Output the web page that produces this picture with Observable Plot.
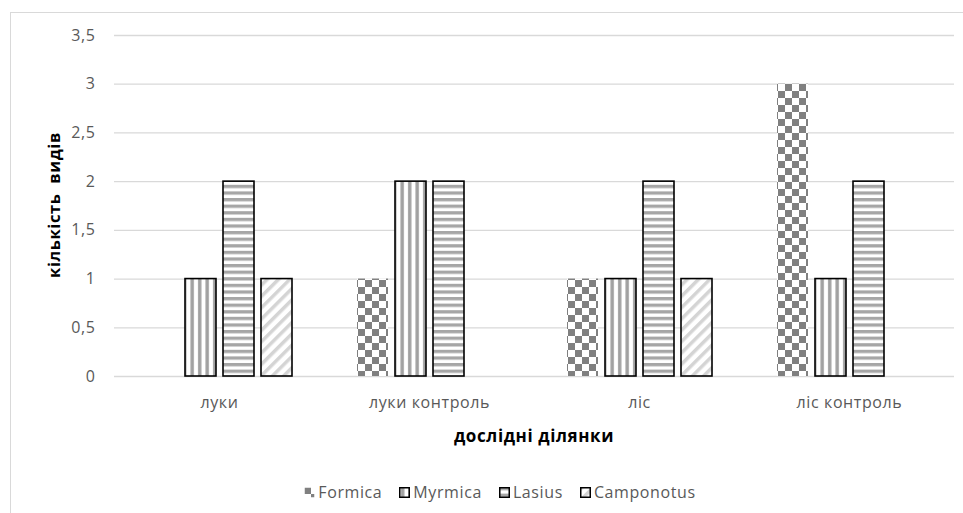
<!DOCTYPE html>
<html>
<head>
<meta charset="utf-8">
<script src="https://cdn.jsdelivr.net/npm/d3@7"></script>
<script src="https://cdn.jsdelivr.net/npm/@observablehq/plot@0.6"></script>
<style>
  html, body { margin: 0; padding: 0; background: #fff; }
  body { width: 963px; height: 513px; overflow: hidden; position: relative; font-family: "Open Sans", Lato, sans-serif; }
  #frame { position: absolute; left: 10px; top: 12px; width: 1000px; height: 600px; border: 1px solid #d9d9d9; box-sizing: border-box; }
  #chart { position: absolute; left: 0; top: 0; }
  #legend { position: absolute; left: 37px; right: 0; top: 481px; display: flex; justify-content: center; gap: 17px; color: #595959; font-size: 16px; letter-spacing: 0.6px; }
  #legend .item { display: flex; align-items: center; gap: 3px; }
  #legend svg { display: block; }
</style>
</head>
<body>
<div id="frame"></div>
<svg width="0" height="0" style="position:absolute">
  <defs>
    <pattern id="pat-Formica" patternUnits="userSpaceOnUse" width="14" height="14">
      <rect width="14" height="14" fill="#fff"/>
      <rect x="0" y="0" width="7" height="7" fill="#808080"/>
      <rect x="7" y="7" width="7" height="7" fill="#808080"/>
    </pattern>
    <pattern id="pat-Myrmica" patternUnits="userSpaceOnUse" width="7.5" height="8">
      <rect width="7.5" height="8" fill="#fff"/>
      <rect x="2" y="0" width="3.4" height="8" fill="#a0a0a0"/>
    </pattern>
    <pattern id="pat-Lasius" patternUnits="userSpaceOnUse" width="8" height="6.6">
      <rect width="8" height="6.6" fill="#fff"/>
      <rect x="0" y="0" width="8" height="3.3" fill="#a6a6a6"/>
    </pattern>
    <pattern id="pat-Camponotus" patternUnits="userSpaceOnUse" width="8" height="8" patternTransform="rotate(45)">
      <rect width="8" height="8" fill="#fff"/>
      <rect x="0" y="0" width="3.5" height="8" fill="#d4d4d4"/>
    </pattern>
  </defs>
</svg>
<div id="chart"></div>
<div id="legend"></div>
<script>
// Study plots and ant genera
const categories = ["луки", "луки контроль", "ліс", "ліс контроль"];
const series = ["Formica", "Myrmica", "Lasius", "Camponotus"];
const formica = [0, 1, 1, 3];
const myrmica = [1, 2, 1, 1];
const lasius = [2, 2, 2, 2];
const camponotus = [1, 0, 1, 0];
const yTicks = [0, 0.5, 1, 1.5, 2, 2.5, 3, 3.5];

const valuesBySeries = [formica, myrmica, lasius, camponotus];
const rows = [];
categories.forEach((c, i) => {
  series.forEach((s, j) => rows.push({category: c, series: s, value: valuesBySeries[j][i]}));
});

const fmt = d => String(d).replace(".", ",");

const barMarks = series.map(s => Plot.barY(rows, {
  filter: d => d.series === s && d.value > 0,
  x: "series",
  y: "value",
  fill: `url(#pat-${s})`,
  stroke: s === "Formica" ? "none" : "#000",
  strokeWidth: 1.6
}));

const chart = Plot.plot({
  width: 963,
  height: 470,
  marginLeft: 113,
  marginRight: 9,
  marginTop: 35,
  marginBottom: 94,
  style: {fontFamily: "'Open Sans', Lato, sans-serif", fontSize: "16px", letterSpacing: "0.6px", color: "#595959", background: "transparent"},
  facet: {data: rows, x: "category"},
  fx: {domain: categories, padding: 0, axis: "bottom", label: null, tickSize: 0, tickPadding: 20},
  x: {domain: series, axis: null, paddingInner: 0.19, paddingOuter: 0.82},
  y: {domain: [0, 3.5], axis: "left", ticks: yTicks, tickFormat: fmt, tickSize: 0, tickPadding: 19, label: null},
  marks: [
    Plot.ruleY(yTicks, {stroke: "#d9d9d9", strokeWidth: 1.3}),
    ...barMarks
  ]
});
document.getElementById("chart").appendChild(chart);

// Axis titles
const svg = d3.select(chart);
svg.append("text")
  .attr("transform", "translate(56,205) rotate(-90)")
  .attr("text-anchor", "middle")
  .attr("dominant-baseline", "middle")
  .attr("font-weight", "bold")
  .attr("font-size", "16.5px")
  .attr("fill", "#000")
  .style("white-space", "pre")
  .text("кількість  видів");
svg.append("text")
  .attr("x", 534)
  .attr("y", 437)
  .attr("text-anchor", "middle")
  .attr("dominant-baseline", "middle")
  .attr("font-weight", "bold")
  .attr("font-size", "17px")
  .attr("fill", "#000")
  .text("дослідні ділянки");

// Legend
const legend = d3.select("#legend");
series.forEach(s => {
  const item = legend.append("div").attr("class", "item");
  const sw = item.append("svg").attr("width", 11).attr("height", 11);
  sw.append("rect")
    .attr("x", 0.75).attr("y", 0.75).attr("width", 9.5).attr("height", 9.5)
    .attr("fill", `url(#pat-${s})`)
    .attr("stroke", s === "Formica" ? "none" : "#000")
    .attr("stroke-width", 1.5);
  item.append("span").text(s);
});
</script>
</body>
</html>
